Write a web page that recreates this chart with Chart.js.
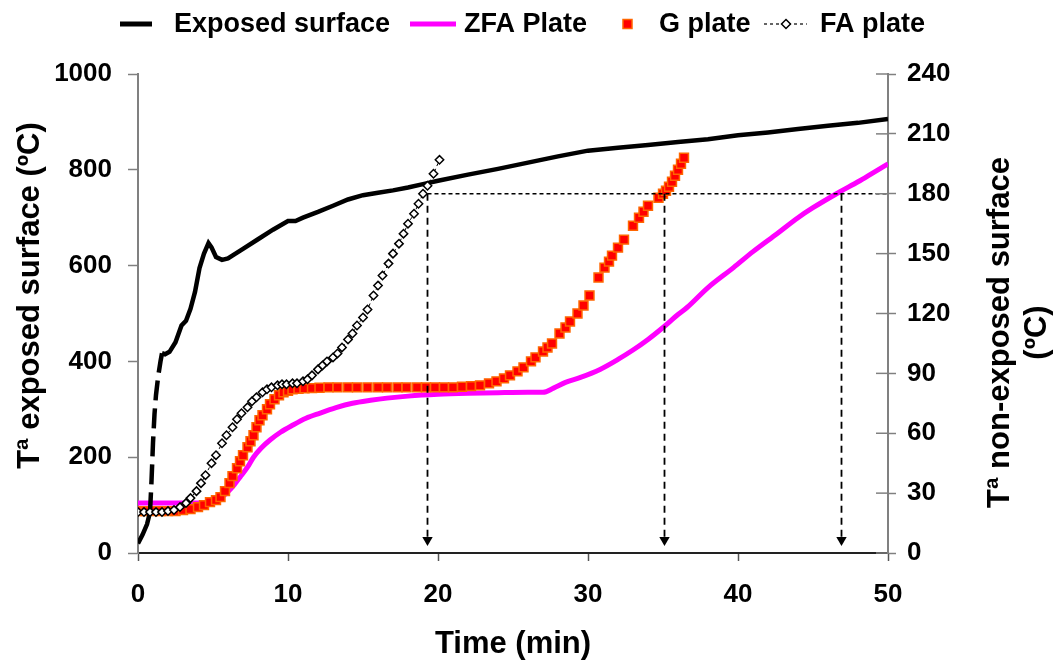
<!DOCTYPE html>
<html>
<head>
<meta charset="utf-8">
<script src="https://cdn.jsdelivr.net/npm/chart.js@4.4.1/dist/chart.umd.min.js"></script>
<style>
  html, body { margin: 0; padding: 0; background: #fff; }
  canvas { display: block; }
</style>
</head>
<body>
<canvas id="chart" width="1059" height="662"></canvas>
<script>
// Exposed surface (left axis, ºC)
const exposedTime = [0, 0.3, 0.6, 0.8, 0.9, 1.0, 1.1, 1.2, 1.35, 1.5, 1.6, 1.8, 2.1, 2.5, 2.9, 3.2, 3.5, 3.8, 4.1, 4.4, 4.7, 4.9, 5.2, 5.6, 6.0, 6.5, 7, 8, 9, 10, 10.5, 11, 12, 13, 14, 15, 16, 17, 18, 19, 20, 22, 24, 26, 28, 30, 32, 34, 36, 38, 40, 42, 44, 46, 48, 50];
const exposedTemp = [20, 38, 60, 85, 150, 230, 290, 330, 370, 400, 417, 415, 420, 440, 475, 485, 510, 545, 595, 625, 647, 638, 618, 612, 615, 625, 635, 655, 675, 693, 693, 700, 712, 725, 738, 747, 752, 757, 763, 770, 777, 790, 802, 815, 828, 840, 846, 852, 858, 864, 872, 878, 885, 892, 898, 906];

// ZFA plate (right axis, ºC)
const zfaTime = [0, 1, 2, 3, 4, 4.8, 5.4, 5.9, 6.4, 6.8, 7.3, 7.7, 8.2, 8.8, 9.5, 10.3, 11.2, 12.1, 13.2, 14.3, 15.5, 16.6, 18, 20, 22, 24, 26, 27, 27.7, 28.5, 29.5, 30.8, 32, 33, 34, 35, 36, 36.6, 38, 39.7, 41, 42.6, 44, 45, 46.8, 48, 49, 50];
const zfaTemp = [25, 25, 25, 25, 25, 25.5, 27, 30, 34, 38, 43, 48, 52.5, 56.6, 60.5, 64, 67.5, 70, 72.8, 75, 76.5, 77.6, 78.6, 79.5, 80, 80.3, 80.5, 80.5, 82.6, 85.5, 88, 92, 97, 101.7, 107, 113, 119.5, 123, 133, 143, 151, 160, 168, 173, 181, 186, 190.5, 195];

// G plate (right axis, ºC)
const gTime = [0, 0.5, 1.0, 1.5, 2.0, 2.5, 3.0, 3.5, 4.0, 4.4, 4.8, 5.2, 5.5, 5.8, 6.1, 6.3, 6.6, 6.8, 7.0, 7.3, 7.5, 7.7, 7.9, 8.1, 8.3, 8.6, 8.8, 9.1, 9.4, 9.7, 10.0, 10.3, 10.7, 11.1, 11.6, 12.1, 12.7, 13.3, 14.0, 14.6, 15.3, 16.0, 16.6, 17.3, 17.9, 18.6, 19.2, 19.8, 20.4, 21.0, 21.6, 22.2, 22.8, 23.4, 23.9, 24.4, 24.8, 25.3, 25.7, 26.2, 26.5, 27.0, 27.3, 27.6, 28.1, 28.5, 28.8, 29.3, 29.7, 30.1, 30.7, 31.1, 31.4, 31.6, 32.0, 32.4, 33.0, 33.4, 33.7, 34.0, 34.7, 35.0, 35.2, 35.4, 35.6, 35.8, 36.0, 36.2, 36.4];
const gTemp = [21, 21, 21, 21, 21, 21, 21.5, 22, 23, 24, 25.5, 26.5, 28, 31, 35, 38.5, 42.5, 46, 49, 53, 56, 59, 63, 66.5, 69, 72, 74.5, 77, 79, 80.5, 81.3, 82, 82.3, 82.5, 82.6, 82.8, 83, 83, 83, 83, 83, 83, 83, 83, 83, 83, 83, 83, 83, 83, 83.3, 83.6, 84, 85, 86, 87.5, 89, 91, 93, 96, 98, 101, 103, 105, 110, 113, 116, 120, 124, 129, 138, 143, 146, 149, 153, 157, 164, 168, 171, 174, 178, 180, 181.5, 183.5, 186, 189, 192, 195, 198];

// FA plate (right axis, ºC)
const faTime = [0, 0.4, 0.8, 1.2, 1.6, 2.0, 2.4, 2.8, 3.2, 3.5, 3.9, 4.2, 4.5, 4.9, 5.2, 5.6, 5.9, 6.3, 6.6, 6.9, 7.3, 7.6, 7.9, 8.3, 8.6, 8.9, 9.3, 9.6, 9.9, 10.3, 10.6, 11.0, 11.3, 11.6, 12.0, 12.3, 12.6, 13.0, 13.3, 13.6, 14.0, 14.3, 14.6, 15.0, 15.3, 15.7, 16.0, 16.3, 16.7, 17.0, 17.4, 17.7, 18.0, 18.4, 18.7, 19.0, 19.3, 19.7, 20.1];
const faTemp = [20.5, 20.5, 20.5, 20.5, 20.5, 21, 21.5, 23, 25, 27.5, 31, 35, 39, 45, 49, 55, 59, 63, 67, 70, 73, 76, 78, 80.5, 82, 83, 84, 84.5, 84.5, 85, 85, 86, 87, 89, 92, 94, 96, 98, 100, 103, 107, 110, 114, 118, 122, 129, 134, 139, 145, 150, 155, 160, 165, 170, 175, 180, 184, 190, 197];

// 180 ºC criterion and the times each plate reaches it
const limitTemp = 180;
const crossTimes = [19.3, 35.1, 46.9];
const arrowEnd = 6.5;

const FONT = "'Liberation Sans', Arial, sans-serif";
const tickFont = { family: FONT, size: 26, weight: 'bold' };
const titleFont = 'bold 31px ' + FONT;
const legendFont = 'bold 27px ' + FONT;

const pts = (xs, ys) => xs.map((x, i) => ({ x: x, y: ys[i] }));

const guideSets = crossTimes.map(t => ({
  data: [{ x: t, y: limitTemp }, { x: t, y: arrowEnd }],
  yAxisID: 'y2',
  borderColor: '#000',
  borderWidth: 1.8,
  borderDash: [7, 5],
  pointStyle: 'triangle',
  pointRotation: 180,
  pointRadius: [0, 6],
  pointBackgroundColor: '#000',
  pointBorderColor: '#000',
  pointBorderWidth: 0,
  order: 0
}));
guideSets.push({
  data: [{ x: crossTimes[0], y: limitTemp }, { x: 50, y: limitTemp }],
  yAxisID: 'y2',
  borderColor: '#000',
  borderWidth: 1.3,
  borderDash: [4, 3],
  pointRadius: 0,
  order: 0
});

const decor = {
  id: 'decor',
  afterDraw(chart) {
    const ctx = chart.ctx;
    const area = chart.chartArea;
    const y2 = chart.scales.y2;
    ctx.save();

    // right axis ticks cross into the plot
    ctx.strokeStyle = '#808080';
    ctx.lineWidth = 1.5;
    y2.ticks.forEach(t => {
      const py = y2.getPixelForValue(t.value);
      ctx.beginPath();
      ctx.moveTo(area.right - 12, py);
      ctx.lineTo(area.right, py);
      ctx.stroke();
    });

    // axis titles
    const midY = (area.top + area.bottom) / 2;
    ctx.fillStyle = '#000';
    ctx.font = titleFont;
    ctx.textAlign = 'center';
    ctx.textBaseline = 'middle';
    ctx.save();
    ctx.translate(30, midY - 18);
    ctx.rotate(-Math.PI / 2);
    ctx.fillText('Tª exposed surface (ºC)', 0, 0);
    ctx.restore();
    ctx.save();
    ctx.translate(1000, midY + 19);
    ctx.rotate(-Math.PI / 2);
    ctx.fillText('Tª non-exposed surface', 0, 0);
    ctx.fillText('(ºC)', 0, 37);
    ctx.restore();

    // legend
    const ly = 24;
    ctx.font = legendFont;
    ctx.textAlign = 'left';
    ctx.lineCap = 'butt';

    ctx.strokeStyle = '#000';
    ctx.lineWidth = 5;
    ctx.beginPath(); ctx.moveTo(120, ly); ctx.lineTo(152, ly); ctx.stroke();
    ctx.fillText('Exposed surface', 174, ly + 1);

    ctx.strokeStyle = '#FF00FF';
    ctx.beginPath(); ctx.moveTo(410, ly); ctx.lineTo(456, ly); ctx.stroke();
    ctx.fillText('ZFA Plate', 464, ly + 1);

    ctx.fillStyle = '#FF0000';
    ctx.strokeStyle = '#FF6600';
    ctx.lineWidth = 1.5;
    ctx.fillRect(623, ly - 4.5, 9, 9);
    ctx.strokeRect(623, ly - 4.5, 9, 9);
    ctx.fillStyle = '#000';
    ctx.fillText('G plate', 659, ly + 1);

    ctx.strokeStyle = '#000';
    ctx.lineWidth = 1.2;
    ctx.setLineDash([3, 3]);
    ctx.beginPath(); ctx.moveTo(764, ly); ctx.lineTo(807, ly); ctx.stroke();
    ctx.setLineDash([]);
    ctx.fillStyle = '#fff';
    ctx.lineWidth = 1.5;
    ctx.beginPath();
    ctx.moveTo(786, ly - 4.5); ctx.lineTo(790.5, ly); ctx.lineTo(786, ly + 4.5); ctx.lineTo(781.5, ly);
    ctx.closePath(); ctx.fill(); ctx.stroke();
    ctx.fillStyle = '#000';
    ctx.fillText('FA plate', 820, ly + 1);

    ctx.restore();
  }
};

new Chart(document.getElementById('chart'), {
  type: 'line',
  data: {
    datasets: guideSets.concat([
      {
        label: 'FA plate',
        data: pts(faTime, faTemp),
        yAxisID: 'y2',
        borderColor: '#000',
        borderWidth: 1,
        borderDash: [3, 3],
        pointStyle: 'rectRot',
        pointRadius: 4.2,
        pointBackgroundColor: '#fff',
        pointBorderColor: '#000',
        pointBorderWidth: 1.5,
        order: 1
      },
      {
        label: 'Exposed surface',
        data: pts(exposedTime, exposedTemp),
        yAxisID: 'y',
        borderColor: '#000',
        borderWidth: 4.5,
        pointRadius: 0,
        segment: {
          borderDash: c => (c.p0.parsed.x >= 0.8 && c.p1.parsed.x <= 1.6) ? [20, 8] : undefined
        },
        order: 2
      },
      {
        label: 'G plate',
        data: pts(gTime, gTemp),
        yAxisID: 'y2',
        showLine: false,
        pointStyle: 'rect',
        pointRadius: 6.3,
        pointBackgroundColor: '#FF0000',
        pointBorderColor: '#FF6600',
        pointBorderWidth: 1.5,
        order: 3
      },
      {
        label: 'ZFA Plate',
        data: pts(zfaTime, zfaTemp),
        yAxisID: 'y2',
        borderColor: '#FF00FF',
        borderWidth: 5,
        pointRadius: 0,
        cubicInterpolationMode: 'monotone',
        order: 4
      }
    ])
  },
  options: {
    responsive: false,
    animation: false,
    events: [],
    layout: { padding: { top: 74, left: 0, right: 0, bottom: 0 } },
    plugins: {
      legend: { display: false },
      tooltip: { enabled: false }
    },
    scales: {
      x: {
        type: 'linear',
        min: 0,
        max: 50,
        ticks: { stepSize: 10, font: tickFont, color: '#000', padding: 18, maxRotation: 0, callback: v => String(v) },
        grid: { drawOnChartArea: false, tickLength: 8, color: '#555', tickWidth: 1.5 },
        border: { color: '#222', width: 2 },
        title: {
          display: true,
          text: 'Time (min)',
          color: '#000',
          font: { family: FONT, size: 31, weight: 'bold', lineHeight: 1.1 },
          padding: { top: 0, bottom: 0 }
        },
        afterFit: s => { s.height = 109; }
      },
      y: {
        position: 'left',
        min: 0,
        max: 1000,
        ticks: { stepSize: 200, font: tickFont, color: '#000', padding: 16, callback: v => String(v) },
        grid: { drawOnChartArea: false, tickLength: 10, color: '#808080', tickWidth: 1.5 },
        border: { color: '#808080', width: 2 },
        afterFit: s => { s.width = 138; }
      },
      y2: {
        position: 'right',
        min: 0,
        max: 240,
        ticks: { stepSize: 30, font: tickFont, color: '#000', padding: 11, callback: v => String(v) },
        grid: { drawOnChartArea: false, tickLength: 8, color: '#808080', tickWidth: 1.5 },
        border: { color: '#808080', width: 2 },
        afterFit: s => { s.width = 171; }
      }
    }
  },
  plugins: [decor]
});
</script>
</body>
</html>
